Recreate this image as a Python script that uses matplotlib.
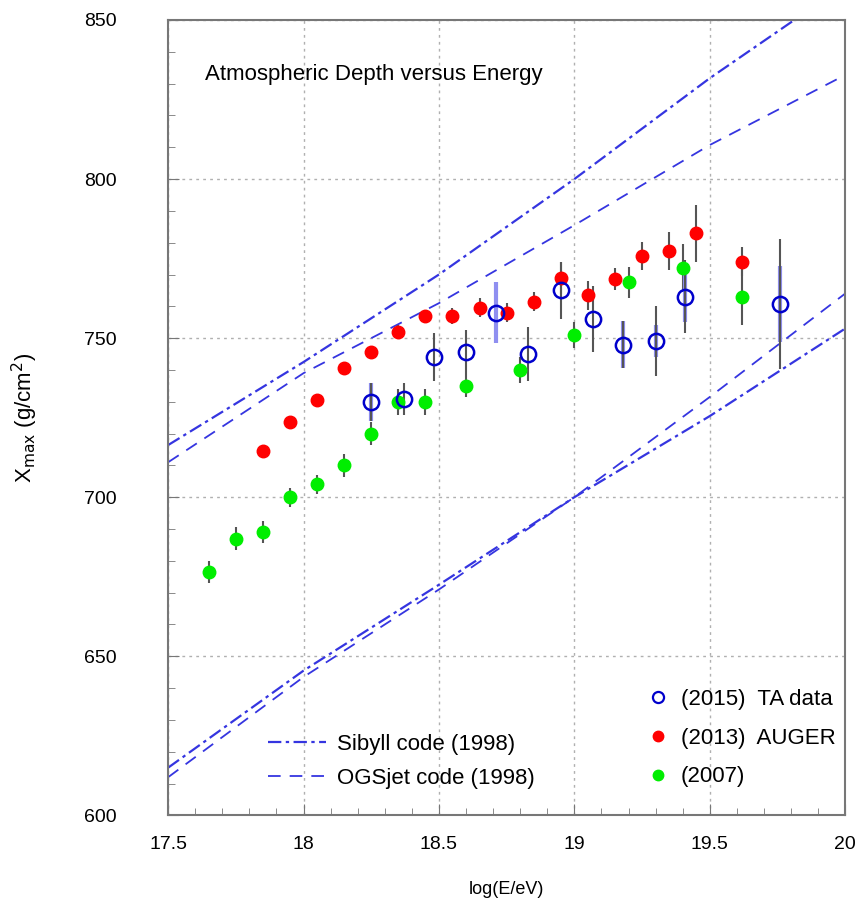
import matplotlib.pyplot as plt
from matplotlib.ticker import MultipleLocator
from matplotlib.lines import Line2D

plt.rcParams['font.family'] = ['Liberation Sans', 'DejaVu Sans']

# model curves (Sibyll / OGSjet), proton (upper) and iron (lower)
model_x = [17.5, 18.0, 18.5, 19.0, 19.5, 20.0]
sib_up = [716.4, 742.5, 770.0, 800.0, 831.7, 861.0]
ogs_up = [711.0, 739.0, 761.0, 785.5, 810.7, 832.7]
sib_lo = [615.0, 645.5, 672.5, 700.0, 725.5, 753.0]
ogs_lo = [612.0, 643.5, 671.0, 700.0, 731.5, 764.0]

# (2015) TA data
ta_x = [18.25, 18.37, 18.48, 18.60, 18.71, 18.83, 18.95, 19.07, 19.18, 19.30, 19.41, 19.76]
ta_y = [730, 731, 744, 745.5, 758, 745, 765, 756, 748, 749, 763, 760.7]
ta_err = [6, 5, 7.5, 7, 0, 8.5, 9, 10.5, 7.5, 11, 11.5, 20.5]
ta_sys = [6, 0, 0, 0, 9.5, 0, 0, 0, 7.5, 5, 8, 12]

# (2013) AUGER
au_x = [17.85, 17.95, 18.05, 18.15, 18.25, 18.35, 18.45, 18.55, 18.65, 18.75,
        18.85, 18.95, 19.05, 19.15, 19.25, 19.35, 19.45, 19.62]
au_y = [714.5, 723.5, 730.5, 740.5, 745.5, 752, 757, 757, 759.5, 758,
        761.5, 769, 763.5, 768.5, 775.8, 777.3, 783, 774]
au_err = [1.5, 1.5, 1.5, 2, 2, 2, 2, 2.5, 3, 3, 3, 5, 4.5, 3.5, 4.5, 6, 9, 4.5]

# (2007)
g_x = [17.65, 17.75, 17.85, 17.95, 18.05, 18.15, 18.25, 18.35, 18.45, 18.6,
       18.8, 19.0, 19.2, 19.4, 19.62]
g_y = [676.5, 687, 689, 700, 704, 710, 720, 730, 730, 735, 740, 751, 767.5, 772, 763]
g_err = [3.5, 3.5, 3.5, 3, 3, 3.5, 3.5, 4, 4, 3.5, 4, 4, 5, 7.5, 9]

blue = '#3535e0'
dashdot = (0, (6, 2, 1.5, 2))
dashed = (0, (7, 5))

fig = plt.figure(figsize=(8.58, 9.09), dpi=100)
ax = fig.add_axes([0.196, 0.103, 0.789, 0.875])

ax.plot(model_x, sib_up, color=blue, lw=1.6, linestyle=dashdot)
ax.plot(model_x, sib_lo, color=blue, lw=1.6, linestyle=dashdot)
ax.plot(model_x, ogs_up, color=blue, lw=1.3, linestyle=dashed)
ax.plot(model_x, ogs_lo, color=blue, lw=1.3, linestyle=dashed)

# error bars
ax.errorbar(g_x, g_y, yerr=g_err, fmt='none', ecolor='#555555', elinewidth=1.5, zorder=3)
ax.errorbar(au_x, au_y, yerr=au_err, fmt='none', ecolor='#555555', elinewidth=1.5, zorder=3)
ax.errorbar(ta_x, ta_y, yerr=ta_sys, fmt='none', ecolor='#8f8ff0', elinewidth=3, zorder=3)
ax.errorbar(ta_x, ta_y, yerr=ta_err, fmt='none', ecolor='#555555', elinewidth=1.5, zorder=3)

ax.plot(g_x, g_y, 'o', color='#00ee00', ms=9, zorder=4)
ax.plot(au_x, au_y, 'o', color='#ff0000', ms=9, zorder=4)
ax.plot(ta_x, ta_y, 'o', mfc='none', mec='#0000cc', mew=1.8, ms=11, zorder=5)

ax.set_xlim(17.5, 20)
ax.set_ylim(600, 850)
ax.xaxis.set_minor_locator(MultipleLocator(0.1))
ax.yaxis.set_major_locator(MultipleLocator(50))
ax.yaxis.set_minor_locator(MultipleLocator(10))
ax.set_xticks([17.5, 18, 18.5, 19, 19.5, 20])
ax.set_xticklabels(['17.5', '18', '18.5', '19', '19.5', '20'])
ax.tick_params(which='both', direction='in', colors='#777777', labelcolor='black', labelsize=14)
ax.tick_params(axis='y', which='both', pad=37)
ax.tick_params(axis='x', which='both', pad=15)
ax.tick_params(which='major', length=8)
ax.tick_params(which='minor', length=5)
ax.grid(True, which='major', color='#b0b0b0', linestyle=(0, (2, 3)), lw=1)
for s in ax.spines.values():
    s.set_color('#777777')
    s.set_linewidth(1.5)

ax.set_xlabel('log(E/eV)', fontsize=13, labelpad=20)
ax.set_ylabel(r'X$_{\rm max}$ (g/cm$^2$)', fontsize=16, labelpad=32)

ax.text(0.055, 0.925, 'Atmospheric Depth versus Energy', transform=ax.transAxes, fontsize=16)

# legends
h1 = [Line2D([], [], marker='o', ls='none', mfc='none', mec='#0000cc', mew=1.6, ms=8),
      Line2D([], [], marker='o', ls='none', color='#ff0000', ms=7.5),
      Line2D([], [], marker='o', ls='none', color='#00ee00', ms=7.5)]
leg1 = ax.legend(h1, ['(2015)  TA data', '(2013)  AUGER', '(2007)'], loc='lower right',
                 frameon=False, fontsize=16, handletextpad=0.2, labelspacing=0.8,
                 handlelength=1.6, bbox_to_anchor=(1.015, 0.01))
ax.add_artist(leg1)
h2 = [Line2D([], [], color=blue, lw=1.6, linestyle=dashdot),
      Line2D([], [], color=blue, lw=1.3, linestyle=dashed)]
ax.legend(h2, ['Sibyll code (1998)', 'OGSjet code (1998)'], loc='lower left',
          frameon=False, fontsize=16, handlelength=2.6, handletextpad=0.5, labelspacing=0.6,
          bbox_to_anchor=(0.118, 0.008))

fig.savefig('out.png', dpi=100)
